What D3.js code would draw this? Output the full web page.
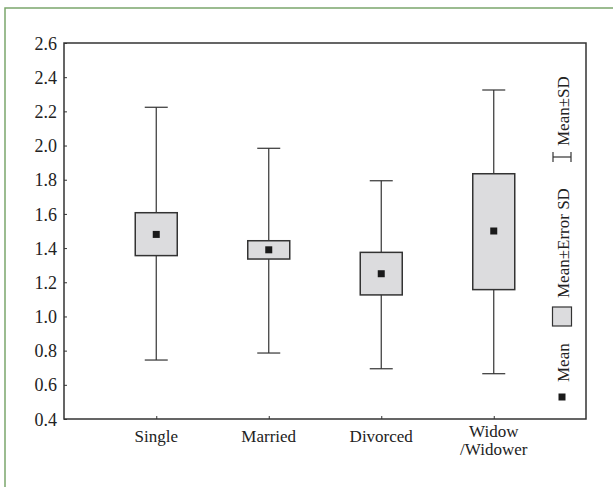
<!DOCTYPE html>
<html>
<head>
<meta charset="utf-8">
<script src="https://cdn.jsdelivr.net/npm/d3@7"></script>
<style>
  body { margin: 0; background: #fff; }
  svg text { font-family: "Liberation Serif", "Times New Roman", serif; fill: #222; }
</style>
</head>
<body>
<svg width="613" height="487"></svg>
<script>
// data
var groups = ["Single", "Married", "Divorced", "Widow\n/Widower"];
var means = [1.48, 1.39, 1.25, 1.50];
var boxLow = [1.356, 1.336, 1.126, 1.157];
var boxHigh = [1.607, 1.443, 1.375, 1.835];
var sdLow = [0.745, 0.786, 0.694, 0.665];
var sdHigh = [2.224, 1.984, 1.794, 2.325];
var yTicks = [0.4, 0.6, 0.8, 1.0, 1.2, 1.4, 1.6, 1.8, 2.0, 2.2, 2.4, 2.6];

var svg = d3.select("svg");

// green outer frame
svg.append("rect")
    .attr("x", 5).attr("y", 8)
    .attr("width", 640).attr("height", 520)
    .attr("fill", "none")
    .attr("stroke", "#7ba66c")
    .attr("stroke-width", 1.5);

var pLeft = 64, pRight = 586, pTop = 43, pBottom = 419;

var x = d3.scalePoint()
    .domain(groups)
    .range([pLeft, pRight])
    .padding(0.82);

var y = d3.scaleLinear()
    .domain([0.4, 2.6])
    .range([pBottom, pTop]);

var data = groups.map(function(g, i) {
    return {g: g, mean: means[i], lo: boxLow[i], hi: boxHigh[i], min: sdLow[i], max: sdHigh[i]};
});

// plot box
svg.append("rect")
    .attr("x", pLeft).attr("y", pTop)
    .attr("width", pRight - pLeft).attr("height", pBottom - pTop)
    .attr("fill", "none")
    .attr("stroke", "#333")
    .attr("stroke-width", 1.5);

// y axis
var yAxis = svg.append("g")
    .attr("transform", "translate(" + pLeft + ",0)")
    .call(d3.axisRight(y).tickValues(yTicks).tickSize(3).tickFormat(d3.format(".1f")))
    .attr("font-family", "Liberation Serif")
    .attr("font-size", 18);
yAxis.select(".domain").remove();
yAxis.selectAll("line").attr("stroke", "#333");
yAxis.selectAll("text")
    .attr("x", -7)
    .attr("dy", "0.34em")
    .attr("text-anchor", "end")
    .attr("fill", "#222");

// x axis
var xAxis = svg.append("g")
    .attr("transform", "translate(0," + pBottom + ")")
    .call(d3.axisTop(x).tickSize(3).tickFormat(""));
xAxis.select(".domain").remove();
xAxis.selectAll("line").attr("stroke", "#333");

svg.append("g").selectAll("text")
    .data(groups)
    .enter()
  .append("text")
    .attr("x", function(d) { return x(d); })
    .attr("y", 442)
    .attr("text-anchor", "middle")
    .style("font-size", "17px")
    .each(function(d) {
        var lines = d.split("\n");
        var t = d3.select(this);
        lines.forEach(function(l, i) {
            t.append("tspan")
                .attr("x", x(d))
                .attr("dy", i == 0 ? (lines.length > 1 ? -5 : 0) : 18)
                .text(l);
        });
    });

var boxW = 42, capW = 23;

var g = svg.append("g").selectAll("g")
    .data(data)
    .enter()
  .append("g");

// whiskers
g.append("line")
    .attr("x1", function(d) { return x(d.g); })
    .attr("x2", function(d) { return x(d.g); })
    .attr("y1", function(d) { return y(d.min); })
    .attr("y2", function(d) { return y(d.max); })
    .attr("stroke", "#333").attr("stroke-width", 1.2);
g.append("line")
    .attr("x1", function(d) { return x(d.g) - capW / 2; })
    .attr("x2", function(d) { return x(d.g) + capW / 2; })
    .attr("y1", function(d) { return y(d.max); })
    .attr("y2", function(d) { return y(d.max); })
    .attr("stroke", "#333").attr("stroke-width", 1.2);
g.append("line")
    .attr("x1", function(d) { return x(d.g) - capW / 2; })
    .attr("x2", function(d) { return x(d.g) + capW / 2; })
    .attr("y1", function(d) { return y(d.min); })
    .attr("y2", function(d) { return y(d.min); })
    .attr("stroke", "#333").attr("stroke-width", 1.2);

// boxes
g.append("rect")
    .attr("x", function(d) { return x(d.g) - boxW / 2; })
    .attr("y", function(d) { return y(d.hi); })
    .attr("width", boxW)
    .attr("height", function(d) { return y(d.lo) - y(d.hi); })
    .attr("fill", "#dcdcde")
    .attr("stroke", "#333")
    .attr("stroke-width", 1.5);

// means
g.append("rect")
    .attr("x", function(d) { return x(d.g) - 3.5; })
    .attr("y", function(d) { return y(d.mean) - 3.5; })
    .attr("width", 7).attr("height", 7)
    .attr("fill", "#1a1a1a");

// legend, rotated
var lx = 562;
svg.append("rect")
    .attr("x", lx - 3.5).attr("y", 393.5)
    .attr("width", 7).attr("height", 7)
    .attr("fill", "#1a1a1a");
svg.append("text")
    .attr("transform", "translate(" + (lx + 7) + ",382) rotate(-90)")
    .style("font-size", "17px")
    .text("Mean");
svg.append("rect")
    .attr("x", lx - 9.5).attr("y", 307)
    .attr("width", 19).attr("height", 19)
    .attr("fill", "#dcdcde")
    .attr("stroke", "#333")
    .attr("stroke-width", 1.2);
svg.append("text")
    .attr("transform", "translate(" + (lx + 7) + ",298) rotate(-90)")
    .style("font-size", "17px")
    .text("Mean\u00b1Error SD");
var ib = svg.append("g").attr("stroke", "#333").attr("stroke-width", 1.2);
ib.append("line").attr("x1", lx - 9).attr("x2", lx + 9).attr("y1", 157).attr("y2", 157);
ib.append("line").attr("x1", lx - 9).attr("x2", lx - 9).attr("y1", 152).attr("y2", 162);
ib.append("line").attr("x1", lx + 9).attr("x2", lx + 9).attr("y1", 152).attr("y2", 162);
svg.append("text")
    .attr("transform", "translate(" + (lx + 7) + ",146) rotate(-90)")
    .style("font-size", "17px")
    .text("Mean\u00b1SD");
</script>
</body>
</html>
